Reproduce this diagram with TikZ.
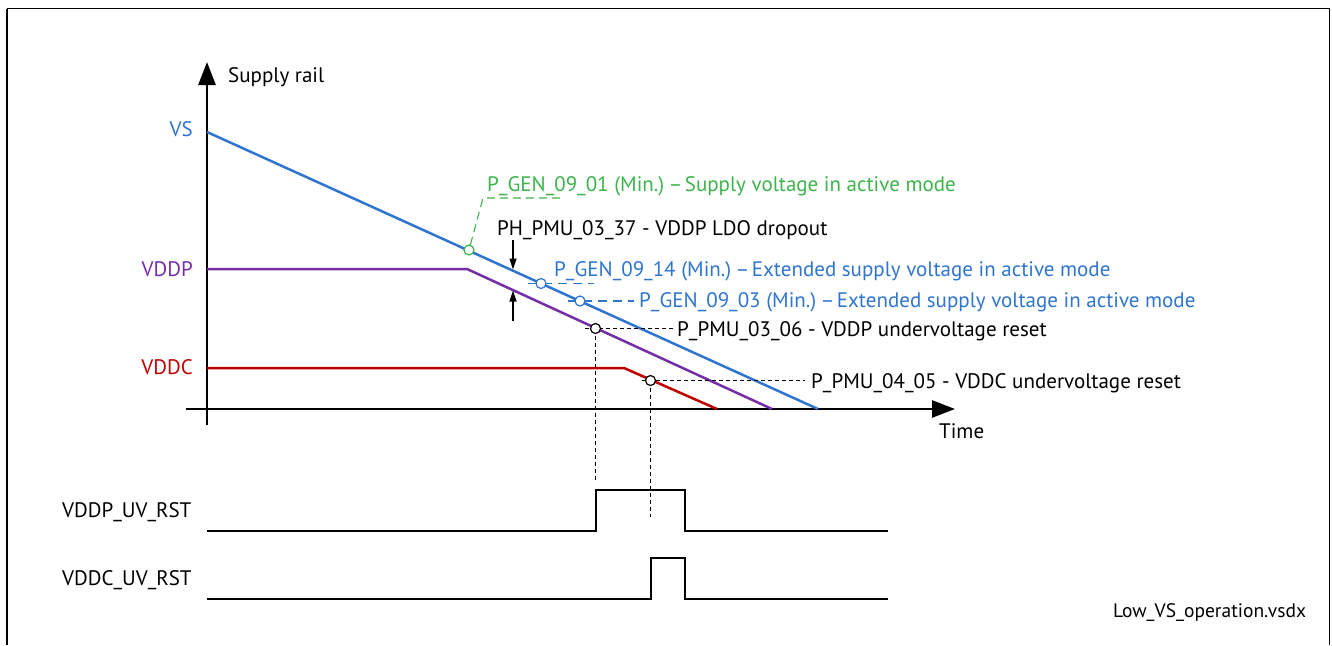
\documentclass[tikz,border=0pt]{standalone}
\usepackage{fontspec}
\setmainfont{PT Sans}
\usetikzlibrary{arrows.meta}
\definecolor{railblue}{RGB}{46,117,208}
\definecolor{railgreen}{RGB}{60,180,75}
\definecolor{railpurple}{RGB}{118,46,168}
\definecolor{railred}{RGB}{192,0,0}
\tikzset{
  lbl/.style={inner sep=0pt, font=\fontsize{21}{25}\selectfont},
  axis/.style={line width=2.7pt, -{Triangle[length=23pt,width=17pt]}},
  rail/.style={line width=2.5pt},
  probe/.style={circle, draw, line width=1.2pt, fill=white, minimum size=10pt, inner sep=0pt},
  guide/.style={line width=1.1pt, dash pattern=on 4pt off 3pt},
  bluedash/.style={railblue, line width=1.1pt, dash pattern=on 9pt off 6pt},
  greendash/.style={railgreen, line width=1.1pt, dash pattern=on 8pt off 5pt},
  pulse/.style={line width=2pt},
  gap/.style={line width=1.2pt, -{Triangle[length=11pt,width=7pt]}}
}
\newcommand{\ndash}{\kern-0.15em--\kern-0.15em}
\begin{document}
\begin{tikzpicture}[x=1pt,y=-1pt]
\useasboundingbox (0,0) rectangle (1332,645);
% frame
\draw[line width=1.8pt] (7,645) -- (7,8.5);
\draw[line width=1pt] (7,8.5) -- (1329.5,8.5) -- (1329.5,645);

% axes
\coordinate (ybot) at (207,425);
\coordinate (ytop) at (207,62);
\coordinate (xleft) at (186,409);
\coordinate (xright) at (955,409);
\draw[axis] (ybot) -- (ytop);
\draw[axis] (xleft) -- (xright);
\node[lbl, anchor=base west] (ylabel) at (228,82) {Supply rail};
\node[lbl, anchor=base west] (xlabel) at (939,438) {Time};

% supply rails
\coordinate (vs0) at (207,132);
\coordinate (vs1) at (818,409);
\coordinate (vp0) at (207,269);
\coordinate (vpk) at (467,269);
\coordinate (vp1) at (772,409);
\coordinate (vc0) at (207,368);
\coordinate (vck) at (624,368);
\coordinate (vc1) at (717,409);
\draw[rail, railblue] (vs0) -- (vs1);
\draw[rail, railpurple] (vp0) -- (vpk) -- (vp1);
\draw[rail, railred] (vc0) -- (vck) -- (vc1);
\node[lbl, anchor=base east, text=railblue] (vslbl) at (193,136) {VS};
\node[lbl, anchor=base east, text=railpurple] (vplbl) at (193,276) {VDDP};
\node[lbl, anchor=base east, text=railred] (vclbl) at (193,374) {VDDC};

% dropout between VS and VDDP
\coordinate (dtop) at (513,240);
\coordinate (dvs) at (513,269.5);
\coordinate (dvp) at (513,290.5);
\coordinate (dbot) at (513,321);
\draw[gap] (dtop) -- (dvs);
\draw[gap] (dbot) -- (dvp);
\node[lbl, anchor=base west] (dropout) at (497,235) {PH\_PMU\_03\_37 - VDDP LDO dropout};

% active mode minimum
\coordinate (g1) at (483,198);
\coordinate (g2) at (562,198);
\node[probe, draw=railgreen] (pg1) at (469,250) {};
\draw[greendash] (pg1) -- (g1) -- (g2);
\node[lbl, anchor=base west, text=railgreen] (tg1) at (487,191) {P\_GEN\_09\_01 (Min.) \ndash{} Supply voltage in active mode};

% extended supply minimum
\coordinate (b1a) at (528,283.5);
\coordinate (b1b) at (594,283.5);
\draw[bluedash] (b1a) -- (b1b);
\node[probe, draw=railblue] (pg14) at (541,283.5) {};
\node[lbl, anchor=base west, text=railblue] (tg14) at (554,276) {P\_GEN\_09\_14 (Min.) \ndash{} Extended supply voltage in active mode};

\coordinate (b2a) at (568,301);
\coordinate (b2b) at (634,301);
\draw[bluedash] (b2a) -- (b2b);
\node[probe, draw=railblue] (pg3) at (580,301) {};
\node[lbl, anchor=base west, text=railblue] (tg3) at (639,307) {P\_GEN\_09\_03 (Min.) \ndash{} Extended supply voltage in active mode};

% undervoltage reset thresholds
\coordinate (p6a) at (585,328.5);
\coordinate (p6b) at (675,328.5);
\coordinate (p6d) at (595.5,480);
\draw[guide] (p6a) -- (p6b);
\draw[guide] (595.5,328.5) -- (p6d);
\node[probe] (pp6) at (595.5,328.5) {};
\node[lbl, anchor=base west] (tp6) at (677,336) {P\_PMU\_03\_06 - VDDP undervoltage reset};

\coordinate (p5a) at (642,380.5);
\coordinate (p5b) at (805,380.5);
\coordinate (p5d) at (650.5,517);
\draw[guide] (p5a) -- (p5b);
\draw[guide] (650.5,380.5) -- (p5d);
\node[probe] (pp5) at (650.5,380.5) {};
\node[lbl, anchor=base west] (tp5) at (811,388) {P\_PMU\_04\_05 - VDDC undervoltage reset};

% reset signals
\draw[pulse] (207,531) -- (596,531) -- (596,490) -- (684.5,490) -- (684.5,531) -- (888,531);
\draw[pulse] (207,599) -- (650.5,599) -- (650.5,558) -- (684.5,558) -- (684.5,599) -- (888,599);
\node[lbl, anchor=base west] (sigp) at (62,517) {VDDP\_UV\_RST};
\node[lbl, anchor=base west] (sigc) at (62,585) {VDDC\_UV\_RST};

\node[lbl, anchor=base west, font=\fontsize{19.5}{23}\selectfont] (fname) at (1113,617) {Low\_VS\_operation.vsdx};
\end{tikzpicture}
\end{document}
